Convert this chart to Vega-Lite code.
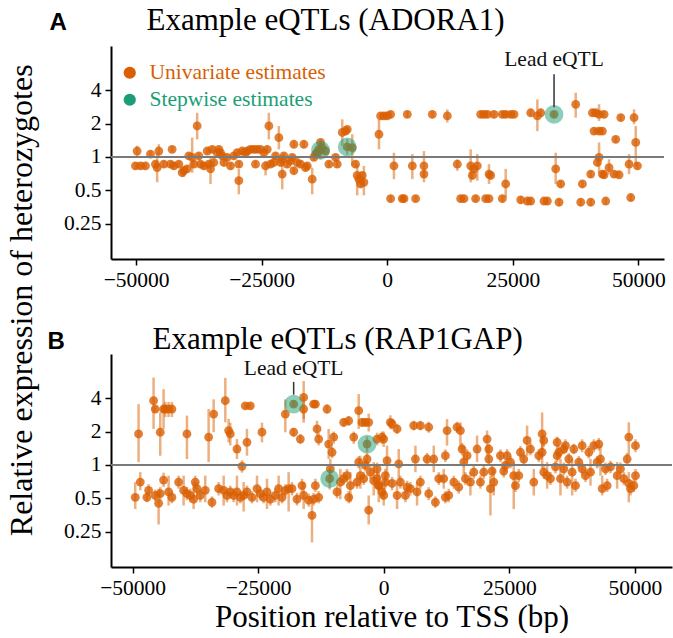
{
"$schema": "https://vega.github.io/schema/vega-lite/v6.json",
"background": "white",
"padding": {"left": 5, "top": 4, "right": 0, "bottom": 0},
"bounds": "flush",
"spacing": 95,
"title": {"text": "Relative expression of heterozygotes", "orient": "left", "anchor": "middle", "font": "Liberation Serif", "fontSize": 32, "fontWeight": "normal", "color": "black", "offset": 8, "dx": 18},
"config": {
  "view": {"stroke": null},
  "axis": {"grid": false, "domainColor": "black", "domainWidth": 2, "tickColor": "black", "tickWidth": 1.5, "tickSize": 6, "labelFont": "Liberation Serif", "labelFontSize": 21.5, "labelColor": "black", "labelPadding": 4, "titleFont": "Liberation Serif", "titleFontSize": 31, "titleFontWeight": "normal", "titleColor": "black"}
},
"datasets": {
"a_uni": [
{"pos":-49800,"est":1.13,"lo":1.01,"hi":1.26},{"pos":-50130,"est":0.83,"lo":0.77,"hi":0.89},{"pos":-49130,"est":0.83,"lo":0.77,"hi":0.89},{"pos":-48140,"est":0.83,"lo":0.77,"hi":0.89},
{"pos":-47140,"est":1.06,"lo":0.98,"hi":1.14},{"pos":-46150,"est":0.86,"lo":0.8,"hi":0.92},{"pos":-45480,"est":1.13,"lo":0.99,"hi":1.3},{"pos":-45810,"est":0.8,"lo":0.59,"hi":1.09},
{"pos":-44490,"est":0.86,"lo":0.8,"hi":0.92},{"pos":-43160,"est":0.86,"lo":0.8,"hi":0.92},{"pos":-42830,"est":1.17,"lo":1.09,"hi":1.25},{"pos":-42490,"est":0.83,"lo":0.77,"hi":0.89},
{"pos":-41500,"est":0.86,"lo":0.8,"hi":0.92},{"pos":-40500,"est":0.75,"lo":0.66,"hi":0.83},{"pos":-40830,"est":0.72,"lo":0.67,"hi":0.77},{"pos":-39840,"est":0.78,"lo":0.72,"hi":0.84},
{"pos":-39510,"est":1.02,"lo":0.95,"hi":1.09},{"pos":-38840,"est":0.99,"lo":0.72,"hi":1.49},{"pos":-38510,"est":0.86,"lo":0.8,"hi":0.92},{"pos":-37850,"est":1.9,"lo":1.44,"hi":2.5},
{"pos":-37520,"est":1.02,"lo":0.95,"hi":1.09},{"pos":-37180,"est":0.86,"lo":0.8,"hi":0.92},{"pos":-36520,"est":0.83,"lo":0.77,"hi":0.89},{"pos":-35850,"est":1.13,"lo":1.05,"hi":1.21},
{"pos":-35520,"est":0.86,"lo":0.8,"hi":0.92},{"pos":-35190,"est":0.78,"lo":0.57,"hi":1.02},{"pos":-34860,"est":1.17,"lo":1.09,"hi":1.25},{"pos":-34530,"est":0.89,"lo":0.83,"hi":0.95},
{"pos":-33860,"est":1.09,"lo":1.01,"hi":1.17},{"pos":-33530,"est":1.17,"lo":1.09,"hi":1.25},{"pos":-33200,"est":1.09,"lo":1.01,"hi":1.17},{"pos":-32870,"est":1.02,"lo":0.95,"hi":1.09},
{"pos":-32530,"est":0.89,"lo":0.83,"hi":0.95},{"pos":-31870,"est":0.99,"lo":0.92,"hi":1.06},{"pos":-31210,"est":0.83,"lo":0.77,"hi":0.89},{"pos":-30540,"est":1.02,"lo":0.95,"hi":1.09},
{"pos":-29880,"est":1.09,"lo":1.01,"hi":1.17},{"pos":-29550,"est":0.86,"lo":0.8,"hi":0.92},{"pos":-29550,"est":0.61,"lo":0.46,"hi":0.78},{"pos":-28880,"est":1.13,"lo":1.05,"hi":1.21},
{"pos":-28220,"est":1.09,"lo":1.01,"hi":1.17},{"pos":-27890,"est":1.13,"lo":1.05,"hi":1.21},{"pos":-27220,"est":1.17,"lo":1.09,"hi":1.25},{"pos":-26560,"est":1.17,"lo":1.09,"hi":1.25},
{"pos":-26230,"est":0.86,"lo":0.8,"hi":0.92},{"pos":-25890,"est":1.17,"lo":1.09,"hi":1.25},{"pos":-25230,"est":1.17,"lo":1.09,"hi":1.25},{"pos":-24560,"est":1.09,"lo":1.01,"hi":1.17},
{"pos":-24230,"est":0.83,"lo":0.68,"hi":0.92},{"pos":-23900,"est":1.17,"lo":1.09,"hi":1.25},{"pos":-23570,"est":1.9,"lo":1.44,"hi":2.5},{"pos":-23240,"est":0.86,"lo":0.8,"hi":0.92},
{"pos":-22570,"est":0.89,"lo":0.83,"hi":0.95},{"pos":-22240,"est":1.02,"lo":0.95,"hi":1.09},{"pos":-21580,"est":1.49,"lo":1.17,"hi":1.9},{"pos":-21250,"est":0.89,"lo":0.83,"hi":0.95},
{"pos":-20910,"est":0.95,"lo":0.88,"hi":1.02},{"pos":-20910,"est":0.7,"lo":0.51,"hi":0.89},{"pos":-20580,"est":1.02,"lo":0.95,"hi":1.09},{"pos":-19920,"est":0.86,"lo":0.8,"hi":0.92},
{"pos":-19250,"est":0.92,"lo":0.86,"hi":0.98},{"pos":-18920,"est":0.99,"lo":0.92,"hi":1.06},{"pos":-18590,"est":1.3,"lo":1.21,"hi":1.39},{"pos":-18590,"est":0.75,"lo":0.7,"hi":0.8},
{"pos":-17930,"est":0.89,"lo":0.83,"hi":0.95},{"pos":-17260,"est":0.86,"lo":0.8,"hi":0.92},{"pos":-16600,"est":1.3,"lo":1.21,"hi":1.39},{"pos":-16270,"est":0.8,"lo":0.74,"hi":0.86},
{"pos":-15930,"est":0.83,"lo":0.77,"hi":0.89},{"pos":-14940,"est":0.63,"lo":0.46,"hi":0.8},{"pos":-14610,"est":0.99,"lo":0.92,"hi":1.06},{"pos":-14280,"est":1.06,"lo":0.98,"hi":1.14},
{"pos":-13940,"est":1.09,"lo":1.01,"hi":1.17},{"pos":-13610,"est":1.17,"lo":1.09,"hi":1.25},{"pos":-13280,"est":1.35,"lo":1.26,"hi":1.44},{"pos":-12950,"est":1.21,"lo":1.13,"hi":1.29},
{"pos":-12280,"est":1.13,"lo":1.05,"hi":1.21},{"pos":-11620,"est":0.86,"lo":0.8,"hi":0.92},{"pos":-10290,"est":0.99,"lo":0.92,"hi":1.06},{"pos":-9960,"est":0.86,"lo":0.8,"hi":0.92},
{"pos":-8960,"est":1.66,"lo":1.26,"hi":2.18},{"pos":-8300,"est":1.71,"lo":1.59,"hi":1.83},{"pos":-7970,"est":1.77,"lo":1.65,"hi":1.89},{"pos":-6970,"est":1.21,"lo":0.83,"hi":1.6},
{"pos":-6310,"est":0.86,"lo":0.8,"hi":0.92},{"pos":-5980,"est":0.68,"lo":0.45,"hi":0.86},{"pos":-5640,"est":0.63,"lo":0.59,"hi":0.67},{"pos":-5310,"est":0.57,"lo":0.53,"hi":0.61},
{"pos":-4980,"est":0.68,"lo":0.63,"hi":0.73},{"pos":-4650,"est":0.59,"lo":0.45,"hi":0.83},{"pos":-13280,"est":1.15,"lo":0.95,"hi":1.4},{"pos":-7970,"est":1.23,"lo":1.05,"hi":1.45},
{"pos":-1650,"est":1.6,"lo":1.17,"hi":2.18},{"pos":-1320,"est":2.34,"lo":2.18,"hi":2.5},{"pos":-660,"est":2.34,"lo":2.18,"hi":2.5},{"pos":0,"est":2.34,"lo":2.18,"hi":2.5},
{"pos":670,"est":2.42,"lo":2.25,"hi":2.59},{"pos":3990,"est":2.42,"lo":2.25,"hi":2.59},{"pos":8970,"est":2.42,"lo":2.25,"hi":2.59},{"pos":11960,"est":2.34,"lo":2.04,"hi":2.68},
{"pos":18600,"est":2.42,"lo":2.25,"hi":2.59},{"pos":19260,"est":2.42,"lo":2.25,"hi":2.59},{"pos":19930,"est":2.42,"lo":2.25,"hi":2.59},{"pos":21250,"est":2.42,"lo":2.25,"hi":2.59},
{"pos":22910,"est":2.42,"lo":2.25,"hi":2.59},{"pos":23580,"est":2.42,"lo":2.25,"hi":2.59},{"pos":24570,"est":2.42,"lo":2.25,"hi":2.59},{"pos":25240,"est":2.42,"lo":2.25,"hi":2.59},
{"pos":28560,"est":2.5,"lo":2.33,"hi":2.68},{"pos":29890,"est":2.34,"lo":1.71,"hi":3.3},{"pos":30550,"est":2.5,"lo":2.33,"hi":2.68},{"pos":33210,"est":2.42,"lo":2.25,"hi":2.59},
{"pos":37520,"est":2.98,"lo":2.26,"hi":3.79},{"pos":40840,"est":2.5,"lo":2.33,"hi":2.68},{"pos":41510,"est":2.5,"lo":2.33,"hi":2.68},{"pos":42170,"est":2.42,"lo":2.11,"hi":2.98},
{"pos":43170,"est":2.42,"lo":2.25,"hi":2.59},{"pos":46490,"est":2.26,"lo":2.1,"hi":2.42},{"pos":49140,"est":2.26,"lo":1.97,"hi":2.68},{"pos":41170,"est":1.71,"lo":1.59,"hi":1.83},
{"pos":42170,"est":1.71,"lo":1.59,"hi":1.83},{"pos":42830,"est":1.71,"lo":1.59,"hi":1.83},{"pos":45490,"est":1.44,"lo":1.34,"hi":1.54},{"pos":49470,"est":1.35,"lo":0.83,"hi":1.9},
{"pos":48150,"est":0.86,"lo":0.7,"hi":1.06},{"pos":49810,"est":0.83,"lo":0.77,"hi":0.89},{"pos":42170,"est":0.99,"lo":0.72,"hi":1.35},{"pos":41840,"est":0.89,"lo":0.83,"hi":0.95},
{"pos":44160,"est":0.8,"lo":0.7,"hi":0.95},{"pos":42830,"est":0.7,"lo":0.65,"hi":0.75},{"pos":43170,"est":0.69,"lo":0.64,"hi":0.74},{"pos":45160,"est":0.7,"lo":0.65,"hi":0.75},
{"pos":46150,"est":0.69,"lo":0.64,"hi":0.74},{"pos":40510,"est":0.7,"lo":0.65,"hi":0.75},{"pos":38850,"est":0.57,"lo":0.53,"hi":0.61},{"pos":33540,"est":0.78,"lo":0.57,"hi":1.09},
{"pos":34530,"est":0.57,"lo":0.53,"hi":0.61},{"pos":1330,"est":0.83,"lo":0.63,"hi":1.09},{"pos":4990,"est":0.83,"lo":0.63,"hi":1.06},{"pos":7310,"est":0.83,"lo":0.59,"hi":1.13},
{"pos":7310,"est":0.7,"lo":0.65,"hi":0.75},{"pos":13950,"est":0.86,"lo":0.75,"hi":0.95},{"pos":16610,"est":0.83,"lo":0.59,"hi":1.17},{"pos":17270,"est":0.78,"lo":0.72,"hi":0.84},
{"pos":16940,"est":0.68,"lo":0.63,"hi":0.73},{"pos":17930,"est":0.83,"lo":0.61,"hi":1.06},{"pos":20260,"est":0.7,"lo":0.57,"hi":0.86},{"pos":20590,"est":0.68,"lo":0.63,"hi":0.73},
{"pos":23580,"est":0.57,"lo":0.43,"hi":0.78},{"pos":670,"est":0.42,"lo":0.39,"hi":0.45},{"pos":2990,"est":0.42,"lo":0.39,"hi":0.45},{"pos":3330,"est":0.42,"lo":0.39,"hi":0.45},
{"pos":5650,"est":0.42,"lo":0.39,"hi":0.45},{"pos":14610,"est":0.42,"lo":0.39,"hi":0.45},{"pos":15280,"est":0.42,"lo":0.39,"hi":0.45},{"pos":17600,"est":0.42,"lo":0.39,"hi":0.45},
{"pos":19590,"est":0.42,"lo":0.39,"hi":0.45},{"pos":20260,"est":0.42,"lo":0.39,"hi":0.45},{"pos":22910,"est":0.42,"lo":0.39,"hi":0.45},{"pos":26570,"est":0.41,"lo":0.38,"hi":0.44},
{"pos":27890,"est":0.4,"lo":0.37,"hi":0.43},{"pos":28560,"est":0.4,"lo":0.37,"hi":0.43},{"pos":31210,"est":0.4,"lo":0.37,"hi":0.43},{"pos":31880,"est":0.4,"lo":0.37,"hi":0.43},
{"pos":34200,"est":0.39,"lo":0.36,"hi":0.42},{"pos":38520,"est":0.39,"lo":0.36,"hi":0.42},{"pos":40510,"est":0.39,"lo":0.36,"hi":0.42},{"pos":43500,"est":0.4,"lo":0.37,"hi":0.43},
{"pos":48480,"est":0.43,"lo":0.4,"hi":0.46}
],
"a_step": [{"pos":-13280,"est":1.15},{"pos":-7970,"est":1.23},{"pos":33210,"est":2.42}],
"a_lead": [{"pos":33210,"est":2.42,"label":"Lead eQTL"}],
"b_uni": [
{"pos":-48810,"est":1.9,"lo":1.06,"hi":3.53},{"pos":-45820,"est":3.79,"lo":2.11,"hi":6.13},{"pos":-45490,"est":3.19,"lo":2.97,"hi":3.41},{"pos":-44490,"est":1.97,"lo":1.21,"hi":2.97},
{"pos":-43830,"est":3.19,"lo":2.11,"hi":4.82},{"pos":-43500,"est":3.19,"lo":2.7,"hi":3.7},{"pos":-42830,"est":3.19,"lo":2.7,"hi":3.7},{"pos":-42170,"est":3.19,"lo":2.7,"hi":3.7},
{"pos":-39180,"est":1.9,"lo":1.13,"hi":2.78},{"pos":-34860,"est":1.78,"lo":1.06,"hi":3.19},{"pos":-33860,"est":2.87,"lo":1.97,"hi":3.9},{"pos":-31540,"est":3.79,"lo":2.42,"hi":6.1},
{"pos":-30880,"est":2.04,"lo":1.6,"hi":2.6},{"pos":-30550,"est":1.9,"lo":1.5,"hi":2.4},{"pos":-29220,"est":1.39,"lo":1.13,"hi":1.71},{"pos":-28220,"est":0.97,"lo":0.85,"hi":1.1},
{"pos":-27560,"est":3.41,"lo":3.2,"hi":3.6},{"pos":-26560,"est":3.41,"lo":3.2,"hi":3.6},{"pos":-27230,"est":1.6,"lo":1.21,"hi":2.11},{"pos":-24240,"est":1.97,"lo":1.6,"hi":2.4},
{"pos":-19590,"est":2.87,"lo":1.97,"hi":3.9},{"pos":-17930,"est":3.53,"lo":3.3,"hi":3.8},{"pos":-17930,"est":1.97,"lo":1.8,"hi":2.15},{"pos":-16600,"est":1.71,"lo":1.55,"hi":1.9},
{"pos":-15940,"est":4.06,"lo":2.59,"hi":5.7},{"pos":-15940,"est":3.19,"lo":2.4,"hi":4.2},{"pos":-13950,"est":3.53,"lo":3.3,"hi":3.75},{"pos":-13610,"est":3.53,"lo":3.3,"hi":3.75},
{"pos":-13280,"est":2.11,"lo":1.8,"hi":2.5},{"pos":-12950,"est":1.71,"lo":1.5,"hi":1.95},{"pos":-11290,"est":3.19,"lo":2.9,"hi":3.5},{"pos":-10960,"est":1.54,"lo":1.13,"hi":2.11},
{"pos":-10290,"est":1.3,"lo":1.15,"hi":1.45},{"pos":-9960,"est":1.78,"lo":1.55,"hi":2.0},{"pos":-7970,"est":2.42,"lo":2.2,"hi":2.65},{"pos":-6970,"est":2.5,"lo":2.25,"hi":2.75},
{"pos":-5970,"est":1.78,"lo":1.55,"hi":2.0},{"pos":-4980,"est":3.08,"lo":2.11,"hi":4.35},{"pos":-4320,"est":2.42,"lo":2.2,"hi":2.65},{"pos":-3650,"est":2.42,"lo":2.2,"hi":2.65},
{"pos":-2990,"est":2.42,"lo":2.0,"hi":2.9},{"pos":-3320,"est":1.54,"lo":1.3,"hi":1.8},{"pos":-12,"est":1.71,"lo":1.45,"hi":2.0},{"pos":1330,"est":2.42,"lo":2.1,"hi":2.8},
{"pos":-49470,"est":0.51,"lo":0.4,"hi":0.7},{"pos":-48470,"est":0.7,"lo":0.59,"hi":0.86},{"pos":-47140,"est":0.51,"lo":0.46,"hi":0.57},{"pos":-46810,"est":0.59,"lo":0.52,"hi":0.67},
{"pos":-45490,"est":0.53,"lo":0.47,"hi":0.6},{"pos":-44820,"est":0.45,"lo":0.29,"hi":0.61},{"pos":-44490,"est":0.55,"lo":0.48,"hi":0.63},{"pos":-43830,"est":0.73,"lo":0.63,"hi":0.85},
{"pos":-42830,"est":0.57,"lo":0.43,"hi":0.8},{"pos":-42170,"est":0.51,"lo":0.45,"hi":0.58},{"pos":-40840,"est":0.7,"lo":0.61,"hi":0.8},{"pos":-39840,"est":0.59,"lo":0.43,"hi":0.8},
{"pos":-39180,"est":0.55,"lo":0.48,"hi":0.63},{"pos":-38510,"est":0.53,"lo":0.46,"hi":0.61},{"pos":-37850,"est":0.49,"lo":0.4,"hi":0.7},{"pos":-37520,"est":0.7,"lo":0.61,"hi":0.8},
{"pos":-37180,"est":0.61,"lo":0.53,"hi":0.7},{"pos":-36520,"est":0.53,"lo":0.46,"hi":0.61},{"pos":-35530,"est":0.59,"lo":0.46,"hi":0.8},{"pos":-34200,"est":0.46,"lo":0.41,"hi":0.52},
{"pos":-32870,"est":0.61,"lo":0.53,"hi":0.7},{"pos":-31870,"est":0.59,"lo":0.43,"hi":0.8},{"pos":-31210,"est":0.53,"lo":0.46,"hi":0.61},{"pos":-30550,"est":0.57,"lo":0.5,"hi":0.65},
{"pos":-29880,"est":0.53,"lo":0.46,"hi":0.61},{"pos":-29220,"est":0.57,"lo":0.43,"hi":0.8},{"pos":-28550,"est":0.51,"lo":0.45,"hi":0.58},{"pos":-27890,"est":0.53,"lo":0.38,"hi":0.7},
{"pos":-27230,"est":0.57,"lo":0.5,"hi":0.65},{"pos":-26230,"est":0.51,"lo":0.45,"hi":0.58},{"pos":-25230,"est":0.61,"lo":0.46,"hi":0.8},{"pos":-24570,"est":0.55,"lo":0.48,"hi":0.63},
{"pos":-23910,"est":0.51,"lo":0.45,"hi":0.58},{"pos":-23240,"est":0.57,"lo":0.4,"hi":0.75},{"pos":-22580,"est":0.49,"lo":0.43,"hi":0.56},{"pos":-21580,"est":0.53,"lo":0.46,"hi":0.61},
{"pos":-20920,"est":0.61,"lo":0.43,"hi":0.8},{"pos":-20250,"est":0.51,"lo":0.45,"hi":0.58},{"pos":-19590,"est":0.59,"lo":0.52,"hi":0.67},{"pos":-18930,"est":0.61,"lo":0.38,"hi":0.86},
{"pos":-18260,"est":0.61,"lo":0.53,"hi":0.7},{"pos":-17270,"est":0.49,"lo":0.43,"hi":0.56},{"pos":-16270,"est":0.65,"lo":0.57,"hi":0.75},{"pos":-15940,"est":0.53,"lo":0.4,"hi":0.7},
{"pos":-14940,"est":0.48,"lo":0.42,"hi":0.55},{"pos":-14280,"est":0.35,"lo":0.2,"hi":0.48},{"pos":-13950,"est":0.49,"lo":0.43,"hi":0.56},{"pos":-13610,"est":0.65,"lo":0.57,"hi":0.75},
{"pos":-12950,"est":0.51,"lo":0.45,"hi":0.58},{"pos":-10630,"est":0.92,"lo":0.75,"hi":1.13},{"pos":-10760,"est":0.75,"lo":0.6,"hi":0.92},{"pos":-9300,"est":0.57,"lo":0.5,"hi":0.65},
{"pos":-8640,"est":0.7,"lo":0.49,"hi":0.92},{"pos":-7970,"est":0.75,"lo":0.66,"hi":0.86},{"pos":-7310,"est":0.8,"lo":0.7,"hi":0.92},{"pos":-6970,"est":0.51,"lo":0.45,"hi":0.58},
{"pos":-6640,"est":0.65,"lo":0.46,"hi":0.86},{"pos":-5310,"est":0.7,"lo":0.61,"hi":0.8},{"pos":-4980,"est":1.06,"lo":0.93,"hi":1.2},{"pos":-4650,"est":0.8,"lo":0.61,"hi":1.21},
{"pos":-3980,"est":0.75,"lo":0.66,"hi":0.86},{"pos":-3650,"est":0.99,"lo":0.87,"hi":1.13},{"pos":-3320,"est":1.13,"lo":0.99,"hi":1.28},{"pos":-2990,"est":0.39,"lo":0.29,"hi":0.53},
{"pos":-2660,"est":0.86,"lo":0.75,"hi":0.98},{"pos":-1990,"est":0.72,"lo":0.53,"hi":1.06},{"pos":-1330,"est":0.92,"lo":0.81,"hi":1.05},{"pos":-990,"est":0.65,"lo":0.46,"hi":0.86},
{"pos":-330,"est":0.57,"lo":0.5,"hi":0.65},{"pos":330,"est":0.7,"lo":0.61,"hi":0.8},{"pos":660,"est":1.09,"lo":0.8,"hi":1.49},
{"pos":1660,"est":2.34,"lo":2.1,"hi":2.6},{"pos":2660,"est":2.11,"lo":1.9,"hi":2.35},{"pos":5980,"est":2.26,"lo":2.05,"hi":2.5},{"pos":7300,"est":2.26,"lo":2.05,"hi":2.5},
{"pos":8960,"est":2.19,"lo":1.95,"hi":2.45},{"pos":12610,"est":2.04,"lo":1.49,"hi":2.59},{"pos":14610,"est":2.19,"lo":1.95,"hi":2.45},{"pos":15270,"est":2.04,"lo":1.39,"hi":2.42},
{"pos":20580,"est":1.71,"lo":1.21,"hi":2.04},{"pos":20920,"est":1.39,"lo":1.25,"hi":1.55},{"pos":28550,"est":1.66,"lo":1.21,"hi":2.26},{"pos":31540,"est":1.9,"lo":1.21,"hi":2.97},
{"pos":31870,"est":1.66,"lo":1.45,"hi":1.9},{"pos":34530,"est":1.6,"lo":1.4,"hi":1.8},{"pos":35860,"est":1.39,"lo":1.25,"hi":1.55},{"pos":36190,"est":1.49,"lo":1.3,"hi":1.7},
{"pos":37850,"est":1.39,"lo":1.25,"hi":1.55},{"pos":39510,"est":1.49,"lo":1.3,"hi":1.7},{"pos":41830,"est":1.49,"lo":1.3,"hi":1.7},{"pos":42830,"est":1.54,"lo":1.35,"hi":1.75},
{"pos":48800,"est":1.78,"lo":1.21,"hi":2.42},{"pos":50130,"est":1.49,"lo":1.3,"hi":1.7},{"pos":-1330,"est":1.71,"lo":1.5,"hi":1.95},{"pos":-330,"est":1.78,"lo":1.55,"hi":2.0},
{"pos":-1330,"est":0.75,"lo":0.66,"hi":0.86},{"pos":-990,"est":0.65,"lo":0.57,"hi":0.75},{"pos":0,"est":0.53,"lo":0.43,"hi":0.7},{"pos":330,"est":0.8,"lo":0.7,"hi":0.92},
{"pos":1660,"est":0.68,"lo":0.59,"hi":0.78},{"pos":2660,"est":0.53,"lo":0.4,"hi":0.7},{"pos":2990,"est":1.02,"lo":0.75,"hi":1.39},{"pos":3320,"est":0.7,"lo":0.61,"hi":0.8},
{"pos":4320,"est":0.53,"lo":0.46,"hi":0.61},{"pos":4650,"est":0.63,"lo":0.55,"hi":0.72},{"pos":5310,"est":0.61,"lo":0.53,"hi":0.7},{"pos":6310,"est":1.13,"lo":0.86,"hi":1.49},
{"pos":6640,"est":0.57,"lo":0.43,"hi":0.7},{"pos":7300,"est":0.7,"lo":0.61,"hi":0.8},{"pos":8630,"est":1.13,"lo":0.99,"hi":1.28},{"pos":8960,"est":0.55,"lo":0.48,"hi":0.63},
{"pos":9960,"est":1.13,"lo":0.86,"hi":1.49},{"pos":10290,"est":0.46,"lo":0.41,"hi":0.52},{"pos":10960,"est":0.75,"lo":0.66,"hi":0.86},{"pos":11950,"est":0.75,"lo":0.61,"hi":0.92},
{"pos":12280,"est":0.51,"lo":0.45,"hi":0.58},{"pos":12280,"est":1.21,"lo":1.06,"hi":1.38},{"pos":12950,"est":0.53,"lo":0.46,"hi":0.61},{"pos":13950,"est":0.7,"lo":0.61,"hi":0.8},
{"pos":14940,"est":0.63,"lo":0.55,"hi":0.72},{"pos":15600,"est":1.39,"lo":1.22,"hi":1.58},{"pos":15940,"est":1.06,"lo":0.8,"hi":1.49},{"pos":16270,"est":0.75,"lo":0.66,"hi":0.86},
{"pos":16600,"est":1.21,"lo":1.06,"hi":1.38},{"pos":17260,"est":0.7,"lo":0.53,"hi":0.86},{"pos":17930,"est":0.86,"lo":0.75,"hi":0.98},{"pos":18590,"est":1.39,"lo":1.06,"hi":1.84},
{"pos":19260,"est":0.7,"lo":0.61,"hi":0.8},{"pos":19920,"est":0.86,"lo":0.75,"hi":0.98},{"pos":20920,"est":1.13,"lo":0.99,"hi":1.28},{"pos":21250,"est":0.61,"lo":0.35,"hi":0.8},
{"pos":21580,"est":0.88,"lo":0.77,"hi":1.0},{"pos":21910,"est":0.7,"lo":0.53,"hi":0.92},{"pos":23240,"est":1.21,"lo":1.06,"hi":1.38},{"pos":23900,"est":0.88,"lo":0.77,"hi":1.0},
{"pos":24230,"est":0.99,"lo":0.87,"hi":1.13},{"pos":24570,"est":1.21,"lo":1.02,"hi":1.39},{"pos":25230,"est":1.06,"lo":0.93,"hi":1.2},{"pos":25890,"est":0.8,"lo":0.4,"hi":1.06},
{"pos":26230,"est":0.65,"lo":0.57,"hi":0.75},{"pos":26890,"est":0.8,"lo":0.7,"hi":0.92},{"pos":27220,"est":1.3,"lo":1.14,"hi":1.48},{"pos":27890,"est":1.13,"lo":0.99,"hi":1.28},
{"pos":29220,"est":1.39,"lo":1.22,"hi":1.58},{"pos":29880,"est":0.7,"lo":0.53,"hi":0.92},{"pos":30880,"est":1.21,"lo":1.06,"hi":1.38},{"pos":31540,"est":1.3,"lo":0.92,"hi":1.84},
{"pos":31870,"est":0.86,"lo":0.75,"hi":0.98},{"pos":32540,"est":0.8,"lo":0.61,"hi":1.06},{"pos":33200,"est":0.75,"lo":0.66,"hi":0.86},{"pos":34200,"est":0.96,"lo":0.84,"hi":1.09},
{"pos":34530,"est":1.21,"lo":1.06,"hi":1.38},{"pos":34860,"est":1.3,"lo":1.14,"hi":1.48},{"pos":35190,"est":0.75,"lo":0.53,"hi":1.13},{"pos":35860,"est":0.92,"lo":0.81,"hi":1.05},
{"pos":36520,"est":0.7,"lo":0.61,"hi":0.8},{"pos":36850,"est":1.13,"lo":0.99,"hi":1.28},{"pos":37520,"est":0.86,"lo":0.53,"hi":1.13},{"pos":38180,"est":0.65,"lo":0.57,"hi":0.75},
{"pos":38840,"est":1.06,"lo":0.93,"hi":1.2},{"pos":39510,"est":0.92,"lo":0.81,"hi":1.05},{"pos":40170,"est":0.8,"lo":0.7,"hi":0.92},{"pos":40840,"est":1.3,"lo":1.14,"hi":1.48},
{"pos":41170,"est":0.86,"lo":0.65,"hi":1.13},{"pos":42500,"est":1.06,"lo":0.93,"hi":1.2},{"pos":43160,"est":1.13,"lo":0.8,"hi":1.49},{"pos":43500,"est":0.61,"lo":0.53,"hi":0.8},
{"pos":44160,"est":0.92,"lo":0.81,"hi":1.05},{"pos":44490,"est":0.65,"lo":0.57,"hi":0.75},{"pos":45160,"est":0.96,"lo":0.84,"hi":1.09},{"pos":46480,"est":0.8,"lo":0.61,"hi":1.06},
{"pos":47140,"est":0.92,"lo":0.81,"hi":1.05},{"pos":47810,"est":0.75,"lo":0.66,"hi":0.86},{"pos":48470,"est":1.13,"lo":0.99,"hi":1.28},{"pos":48800,"est":0.68,"lo":0.46,"hi":0.86},
{"pos":49140,"est":0.61,"lo":0.53,"hi":0.7},{"pos":49800,"est":0.65,"lo":0.57,"hi":0.75},{"pos":50130,"est":0.8,"lo":0.7,"hi":0.92}
],
"b_step": [{"pos":-17930,"est":3.53},{"pos":-3320,"est":1.54},{"pos":-10760,"est":0.75}],
"b_lead": [{"pos":-17930,"est":3.53,"label":"Lead eQTL"}],
"ref": [{"ratio": 1}]
},
"vconcat": [
{
  "width": 553, "height": 213,
  "resolve": {"axis": {"x": "independent"}},
  "layer": [
    {"data": {"name": "a_uni"}, "mark": {"type": "rule", "color": "#D95F02", "opacity": 0.5, "strokeWidth": 2.5},
     "encoding": {
       "x": {"field": "pos", "type": "quantitative", "scale": {"domain": [-55000, 55100], "nice": false, "zero": false}, "axis": {"title": null, "orient": "bottom", "values": [-50000, -25000, 0, 25000, 50000], "format": "d"}},
       "y": {"field": "lo", "type": "quantitative", "scale": {"type": "log", "base": 2, "domain": [0.12, 10], "nice": false}, "axis": {"values": [0.25, 0.5, 1, 2, 4], "format": "~g", "title": "A", "titleAngle": 0, "titleX": -62, "titleY": -17, "titleAlign": "left", "titleBaseline": "alphabetic", "titleFont": "Liberation Sans", "titleFontWeight": "bold", "titleFontSize": 24}},
       "y2": {"field": "hi"}}},
    {"data": {"name": "a_uni"}, "mark": {"type": "circle", "size": 78, "opacity": 0.8},
     "encoding": {
       "x": {"field": "pos", "type": "quantitative", "axis": null},
       "y": {"field": "est", "type": "quantitative"},
       "color": {"datum": "Univariate estimates", "type": "nominal", "scale": {"domain": ["Univariate estimates", "Stepwise estimates"], "range": ["#D95F02", "#1B9E77"]},
         "legend": {"title": null, "orient": "none", "legendX": 8, "legendY": 16, "symbolType": "circle", "symbolSize": 150, "symbolOpacity": 1, "symbolStrokeWidth": 0, "labelFont": "Liberation Serif", "labelFontSize": 21.5, "labelLimit": 0, "labelOffset": 9, "rowPadding": 4,
           "labelColor": {"expr": "datum.value == 'Stepwise estimates' ? '#1B9E77' : '#D95F02'"},
           "encode": {"symbols": {"update": {"opacity": {"value": 1}, "fillOpacity": {"value": 1}, "strokeWidth": {"value": 0}}}}}}}},
    {"data": {"name": "a_step"}, "mark": {"type": "circle", "size": 280, "opacity": 0.5, "stroke": "#1B9E77", "strokeWidth": 2},
     "encoding": {
       "x": {"field": "pos", "type": "quantitative", "axis": null},
       "y": {"field": "est", "type": "quantitative"},
       "color": {"datum": "Stepwise estimates", "type": "nominal"}}},
    {"data": {"name": "ref"}, "mark": {"type": "rule", "color": "#7a7a7a", "strokeWidth": 2},
     "encoding": {"y": {"field": "ratio", "type": "quantitative"}}},
    {"data": {"name": "a_lead"}, "mark": {"type": "rule", "color": "#333333", "strokeWidth": 1.5},
     "encoding": {"x": {"field": "pos", "type": "quantitative", "axis": null}, "y": {"datum": 5.57}, "y2": {"datum": 2.8}}},
    {"data": {"name": "a_lead"}, "mark": {"type": "text", "font": "Liberation Serif", "fontSize": 21.5, "color": "#111111", "align": "center", "baseline": "alphabetic"},
     "encoding": {"x": {"field": "pos", "type": "quantitative", "axis": {"orient": "top", "title": "Example eQTLs (ADORA1)", "domain": false, "ticks": false, "labels": false, "titleX": 35, "titleY": -17, "titleAlign": "left", "titleAnchor": "start", "titleBaseline": "alphabetic", "titleFontSize": 31}}, "y": {"datum": 6.57}, "text": {"field": "label"}}}
  ]
},
{
  "width": 561, "height": 213,
  "resolve": {"axis": {"x": "independent"}},
  "layer": [
    {"data": {"name": "b_uni"}, "mark": {"type": "rule", "color": "#D95F02", "opacity": 0.5, "strokeWidth": 2.5},
     "encoding": {
       "x": {"field": "pos", "type": "quantitative", "scale": {"domain": [-54300, 57400], "nice": false, "zero": false}, "axis": {"title": "Position relative to TSS (bp)", "orient": "bottom", "titlePadding": 4, "values": [-50000, -25000, 0, 25000, 50000], "format": "d"}},
       "y": {"field": "lo", "type": "quantitative", "scale": {"type": "log", "base": 2, "domain": [0.12, 10], "nice": false}, "axis": {"values": [0.25, 0.5, 1, 2, 4], "format": "~g", "title": "B", "titleAngle": 0, "titleX": -64, "titleY": -6, "titleAlign": "left", "titleBaseline": "alphabetic", "titleFont": "Liberation Sans", "titleFontWeight": "bold", "titleFontSize": 24}},
       "y2": {"field": "hi"}}},
    {"data": {"name": "b_uni"}, "mark": {"type": "circle", "size": 78, "opacity": 0.8, "color": "#D95F02"},
     "encoding": {"x": {"field": "pos", "type": "quantitative", "axis": null}, "y": {"field": "est", "type": "quantitative"}}},
    {"data": {"name": "b_step"}, "mark": {"type": "circle", "size": 280, "opacity": 0.5, "color": "#1B9E77", "stroke": "#1B9E77", "strokeWidth": 2},
     "encoding": {"x": {"field": "pos", "type": "quantitative", "axis": null}, "y": {"field": "est", "type": "quantitative"}}},
    {"data": {"name": "ref"}, "mark": {"type": "rule", "color": "#7a7a7a", "strokeWidth": 2},
     "encoding": {"y": {"field": "ratio", "type": "quantitative"}}},
    {"data": {"name": "b_lead"}, "mark": {"type": "rule", "color": "#333333", "strokeWidth": 1.5},
     "encoding": {"x": {"field": "pos", "type": "quantitative", "axis": null}, "y": {"datum": 5.6}, "y2": {"datum": 4.3}}},
    {"data": {"name": "b_lead"}, "mark": {"type": "text", "font": "Liberation Serif", "fontSize": 21.5, "color": "#111111", "align": "center", "baseline": "alphabetic"},
     "encoding": {"x": {"field": "pos", "type": "quantitative", "axis": {"orient": "top", "title": "Example eQTLs (RAP1GAP)", "domain": false, "ticks": false, "labels": false, "titleX": 41, "titleY": -6, "titleAlign": "left", "titleAnchor": "start", "titleBaseline": "alphabetic", "titleFontSize": 31}}, "y": {"datum": 6.45}, "text": {"field": "label"}}}
  ]
}
]
}
